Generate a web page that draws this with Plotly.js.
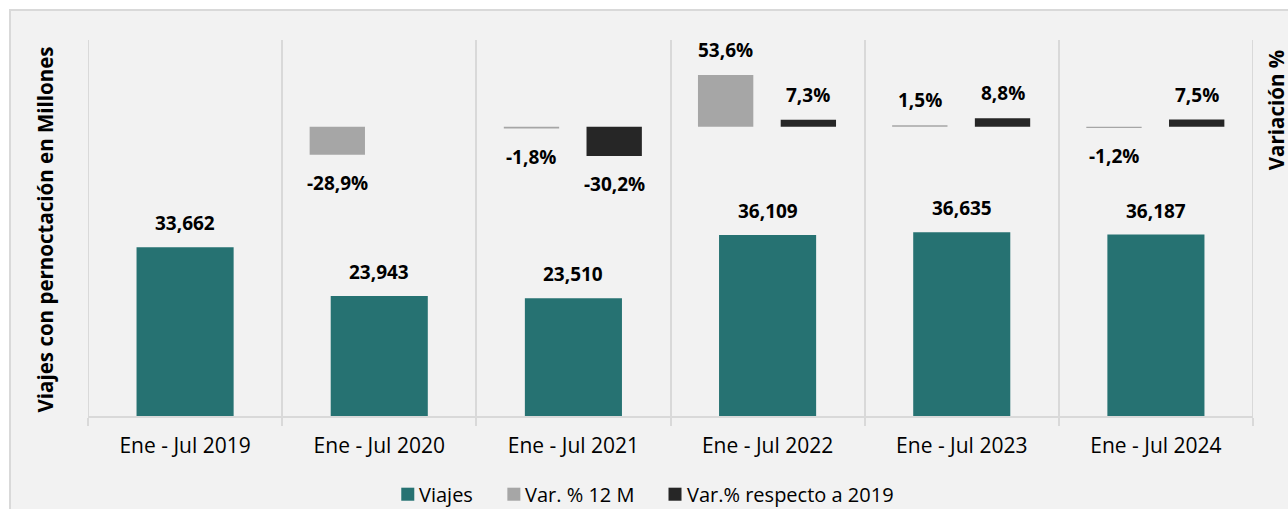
<!DOCTYPE html>
<html>
<head>
<meta charset="utf-8">
<script src="https://cdn.plot.ly/plotly-3.0.1.min.js"></script>
<style>
  html, body { margin:0; padding:0; background:#ffffff; overflow:hidden; width:1288px; height:509px; }
  #chart { position:absolute; left:9px; top:9px; width:1290px; height:510px; border-left:2px solid #d9d9d9; border-top:2px solid #d9d9d9; }
</style>
</head>
<body>
<div id="chart"></div>
<script>
const categories = ["Ene - Jul 2019", "Ene - Jul 2020", "Ene - Jul 2021", "Ene - Jul 2022", "Ene - Jul 2023", "Ene - Jul 2024"];
const viajes = [33662, 23943, 23510, 36109, 36635, 36187];
const var12m = [null, -28.9, -1.8, 53.6, 1.5, -1.2];
const var2019 = [null, null, -30.2, 7.3, 8.8, 7.5];
const seriesNames = ["Viajes", "Var. % 12 M", "Var.% respecto a 2019"];

const FONT = "Open Sans, Noto Sans, sans-serif";
const COLORS = ["#267272", "#a6a6a6", "#262626"];

const fmtN = v => v.toLocaleString("en-US");
const fmtP = v => v.toFixed(1).replace(".", ",") + "%";

const traces = [
  { type:"bar", name:seriesNames[0], x:categories, y:viajes, marker:{color:COLORS[0]},
    width:0.5, offset:-0.25, yaxis:"y", hoverinfo:"skip" },
  { type:"bar", name:seriesNames[1], x:categories, y:var12m, marker:{color:COLORS[1]},
    width:0.285, offset:-0.3585, yaxis:"y2", hoverinfo:"skip" },
  { type:"bar", name:seriesNames[2], x:categories, y:var2019, marker:{color:COLORS[2]},
    width:0.285, offset:0.0675, yaxis:"y2", hoverinfo:"skip" }
];

// plot area geometry in page pixels (for paper-coordinate helpers)
const PL = 88, PR = 1252, PT = 40, PB = 415;
const px = x => (x - PL) / (PR - PL);
const py = y => (PB - y) / (PB - PT);

const LBL = {family:FONT, size:19, color:"#000"};
const annotations = [];
viajes.forEach((v, i) => {
  annotations.push({ x:i, y:v, xref:"x", yref:"y", text:"<b>"+fmtN(v)+"</b>", showarrow:false,
    yanchor:"middle", yshift:24, font:LBL });
});
var12m.forEach((v, i) => {
  if (v === null) return;
  annotations.push({ x:i-0.216, y:v, xref:"x", yref:"y2", text:"<b>"+fmtP(v)+"</b>", showarrow:false,
    yanchor:"middle", yshift: v >= 0 ? 25 : -28, font:LBL });
});
var2019.forEach((v, i) => {
  if (v === null) return;
  annotations.push({ x:i+0.21, y:v, xref:"x", yref:"y2", text:"<b>"+fmtP(v)+"</b>", showarrow:false,
    yanchor:"middle", yshift: v >= 0 ? 25 : -28, font:LBL });
});
annotations.push({ xref:"paper", yref:"paper", x:px(45), y:py(229), text:"<b>Viajes con pernoctación en Millones</b>",
  textangle:-90, showarrow:false, xanchor:"center", yanchor:"middle", font:{family:FONT, size:20.5, color:"#000"} });
annotations.push({ xref:"paper", yref:"paper", x:px(1275), y:py(110), text:"<b>Variación %</b>",
  textangle:-90, showarrow:false, xanchor:"center", yanchor:"middle", font:{family:FONT, size:20.5, color:"#000"} });

// custom legend (small gap between swatch and text, like the reference)
const legendX = [401, 507, 668];
const LEGY = 493;
const shapes = [];
seriesNames.forEach((n, k) => {
  shapes.push({ type:"rect", xref:"paper", yref:"paper", x0:px(legendX[k]), x1:px(legendX[k]+13),
    y0:py(LEGY+6.5), y1:py(LEGY-6.5), fillcolor:COLORS[k], line:{width:0} });
  annotations.push({ xref:"paper", yref:"paper", x:px(legendX[k]+16), y:py(LEGY), text:n, showarrow:false,
    xanchor:"left", yanchor:"middle", font:{family:FONT, size:20, color:"#000"} });
});
// edge grid lines (left / right boundaries of the category axis)
[-0.5, 5.5].forEach(b => {
  shapes.push({ type:"line", xref:"x", yref:"paper", x0:b, x1:b, y0:py(424), y1:1,
    line:{color:"#d9d9d9", width:2}, layer:"below" });
});

const layout = {
  width:1290, height:510,
  margin:{l:77, r:48, t:29, b:105},
  paper_bgcolor:"#f2f2f2", plot_bgcolor:"#f2f2f2",
  barmode:"overlay",
  showlegend:false,
  xaxis:{ type:"category", tickson:"boundaries", showgrid:true, gridcolor:"#d9d9d9", gridwidth:2,
    showline:true, linecolor:"#d9d9d9", linewidth:2, ticks:"outside", ticklen:8, tickcolor:"#d9d9d9", tickwidth:2,
    ticklabelstandoff:10,
    tickfont:{family:FONT, size:21, color:"#000"}, range:[-0.5, 5.5], fixedrange:true },
  yaxis:{ range:[0, 75000], showticklabels:false, showgrid:false, zeroline:false, ticks:"", fixedrange:true },
  yaxis2:{ range:[-300, 90], overlaying:"y", side:"right", showticklabels:false, showgrid:false, zeroline:false, ticks:"", fixedrange:true },
  annotations: annotations,
  shapes: shapes
};

Plotly.newPlot("chart", traces, layout, {staticPlot:true, displayModeBar:false});
</script>
</body>
</html>
